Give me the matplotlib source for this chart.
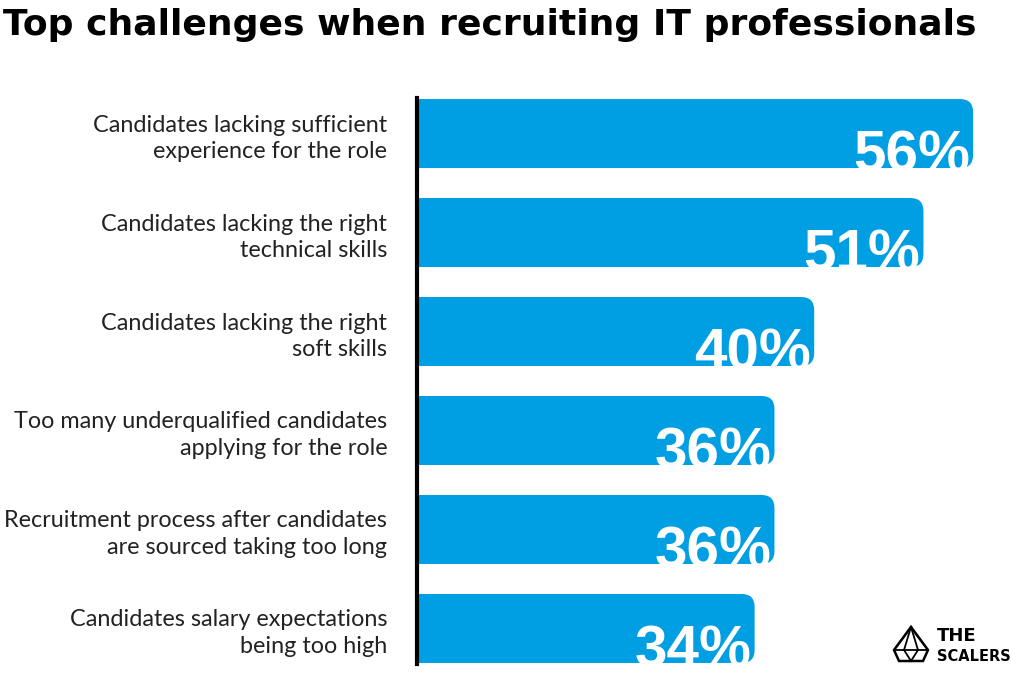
import matplotlib
matplotlib.use("Agg")
import matplotlib.pyplot as plt
from matplotlib.patches import FancyBboxPatch, Polygon
from matplotlib.lines import Line2D

title = "Top challenges when recruiting IT professionals"
categories = [
    "Candidates lacking sufficient\nexperience for the role",
    "Candidates lacking the right\ntechnical skills",
    "Candidates lacking the right\nsoft skills",
    "Too many underqualified candidates\napplying for the role",
    "Recruitment process after candidates\nare sourced taking too long",
    "Candidates salary expectations\nbeing too high",
]
values = [56, 51, 40, 36, 36, 34]
value_labels = ["56%", "51%", "40%", "36%", "36%", "34%"]

BLUE = "#009FE3"
W, H = 1024, 681
PX_PER_UNIT = 9.93

fig = plt.figure(figsize=(W / 100, H / 100), dpi=100)
fig.patch.set_facecolor("white")
ax = fig.add_axes([417 / W, (H - 664.1) / H, 600 / W, 566.2 / H])
ax.set_facecolor("white")

ypos = list(range(len(values)))
bars = ax.barh(ypos, values, height=0.697, color=BLUE)
ax.set_xlim(0, 600 / PX_PER_UNIT)
ax.set_ylim(5.36, -0.36)

r_px = 13
rx = r_px / PX_PER_UNIT
ry = r_px / 99.0
for rect, y, lab in zip(bars, ypos, value_labels):
    x0, y0, w, h = rect.get_x(), rect.get_y(), rect.get_width(), rect.get_height()
    rect.remove()
    p = FancyBboxPatch((x0 - 3, y0), w + 3, h,
                       boxstyle=f"round,pad=0,rounding_size={rx}",
                       mutation_aspect=ry / rx, fc=BLUE, ec="none", zorder=1)
    ax.add_patch(p)
    t = ax.text(x0 + w - 0.3, y + 0.38, lab, ha="right", va="baseline",
                color="white", fontsize=42, fontweight="bold",
                family="Liberation Sans", zorder=2)
    t.set_clip_path(p)

for s in ["top", "right", "bottom"]:
    ax.spines[s].set_visible(False)
ax.spines["left"].set_linewidth(3)
ax.spines["left"].set_color("black")
ax.spines["left"].set_zorder(3)
ax.set_xticks([])
ax.set_yticks(ypos, categories)
ax.tick_params(axis="y", length=0, pad=21.5, labelsize=16.8)
for tl in ax.get_yticklabels():
    tl.set_family("Lato")
    tl.set_fontweight("normal")
    tl.set_color("#222222")
    tl.set_linespacing(1.32)

fig.text(3 / W, 1 - 35 / H, title, ha="left", va="baseline",
         fontsize=26.0, fontweight="bold", family="DejaVu Sans", color="black")

# logo
fig.text(937 / W, 1 - 641 / H, "THE", ha="left", va="baseline",
         fontsize=13, fontweight="heavy", family="DejaVu Sans", color="black")
fig.text(937 / W, 1 - 661 / H, "SCALERS", ha="left", va="baseline",
         fontsize=10.5, fontweight="heavy", family="DejaVu Sans", color="black")

def P(x, y):
    return (x / W, 1 - y / H)

gem = Polygon([P(911, 627), P(894, 650), P(899, 661), P(923, 661), P(928, 650)],
              closed=True, fill=False, ec="black", lw=1.8, transform=fig.transFigure)
fig.add_artist(gem)
for a, b in [((894, 650), (928, 650)), ((911, 627), (904, 650)), ((911, 627), (918, 650)),
             ((904, 650), (911, 661)), ((918, 650), (911, 661)), ((911, 627), (900, 642)),
             ((911, 627), (922, 642))]:
    fig.add_artist(Line2D([a[0] / W, b[0] / W], [1 - a[1] / H, 1 - b[1] / H],
                          color="black", lw=1.3, transform=fig.transFigure))

fig.savefig("out.png", dpi=100, facecolor="white")
